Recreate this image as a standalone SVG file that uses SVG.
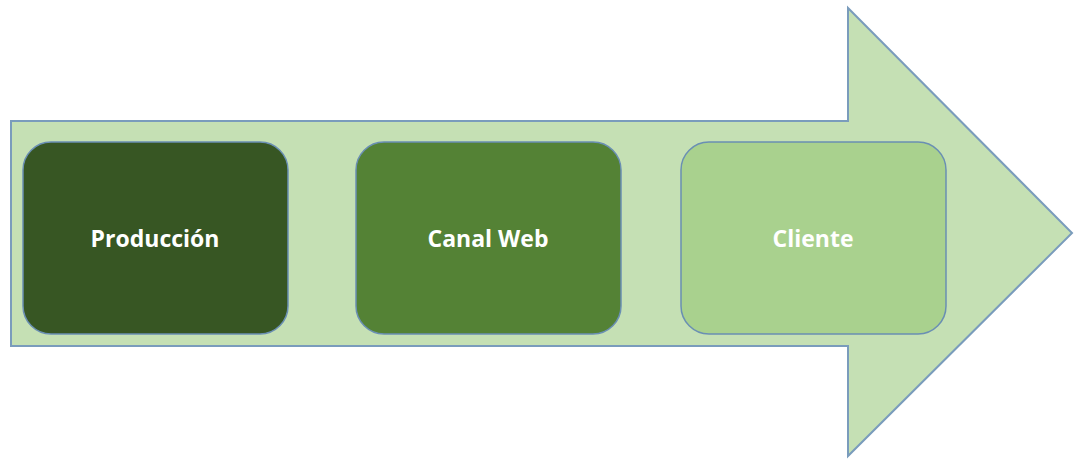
<svg xmlns="http://www.w3.org/2000/svg" width="1080" height="459" viewBox="0 0 1080 459">
<style>
.box{stroke:#6A8FB3;stroke-width:1.5}
.lbl{font-family:"Open Sans","Liberation Sans",sans-serif;font-weight:bold;font-size:23px;fill:#FFFFFF;text-anchor:middle;dominant-baseline:central}
</style>
<rect width="1080" height="459" fill="#FFFFFF"/>
<g id="arrow">
<polygon points="11,121 848,121 848,8 1072,233 848,456 848,346 11,346" fill="#C5E0B4" stroke="#7A9CBC" stroke-width="2"/>
</g>
<g id="produccion">
<rect class="box" x="23" y="142" width="265" height="192" rx="28" fill="#375623"/>
<text class="lbl" x="155" y="238">Producción</text>
</g>
<g id="canal-web">
<rect class="box" x="356" y="142" width="265" height="192" rx="28" fill="#548235"/>
<text class="lbl" x="488" y="238">Canal Web</text>
</g>
<g id="cliente">
<rect class="box" x="681" y="142" width="265" height="192" rx="28" fill="#A9D18E"/>
<text class="lbl" x="813" y="238">Cliente</text>
</g>
<g id="connectors"></g>
</svg>
